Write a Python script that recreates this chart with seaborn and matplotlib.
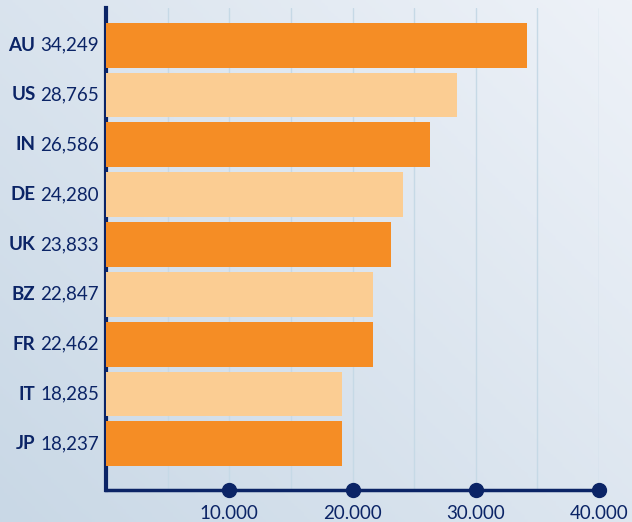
import matplotlib.pyplot as plt
import numpy as np
import pandas as pd
import seaborn as sns
from matplotlib.colors import LinearSegmentedColormap

# Chart data
codes = ["AU", "US", "IN", "DE", "UK", "BZ", "FR", "IT", "JP"]
# Numbers printed next to each code.
label_values = [34249, 28765, 26586, 24280, 23833, 22847, 22462, 18285, 18237]
bar_lengths = [34180, 28510, 26320, 24130, 23160, 21700, 21700, 19110, 19110]
shade = ["dark", "light", "dark", "light", "dark", "light", "dark", "light", "dark"]
x_ticks = [10000, 20000, 30000, 40000]
x_tick_labels = ["10.000", "20.000", "30.000", "40.000"]

NAVY = "#0b2466"
GRID = "#c6d9e6"
palette = {"dark": "#f58d25", "light": "#fbcd93"}


def main() -> None:
    sns.set_theme(style="white")
    plt.rcParams["font.family"] = ["Lato", "DejaVu Sans"]

    df = pd.DataFrame({"code": codes, "value": bar_lengths, "shade": shade})

    fig = plt.figure(figsize=(6.32, 5.22), dpi=100)

    # Diagonal gradient background.
    bg = fig.add_axes([0, 0, 1, 1], zorder=-10)
    yy, xx = np.mgrid[0:1:200j, 0:1:200j]
    grad = 0.55 * xx + 0.45 * yy
    cmap = LinearSegmentedColormap.from_list("bg", ["#c9d8e6", "#eef2f8"])
    bg.imshow(grad, cmap=cmap, origin="lower", aspect="auto", extent=[0, 1, 0, 1])
    bg.axis("off")

    W, H = 632, 522
    left, right, top, bottom = 106, 599, 8, 490
    ax = fig.add_axes([left / W, 1 - bottom / H, (right - left) / W, (bottom - top) / H])
    ax.patch.set_alpha(0)

    sns.barplot(
        data=df, x="value", y="code", hue="shade", palette=palette,
        orient="h", width=0.9, dodge=False, legend=False, ax=ax,
        saturation=1, linewidth=0, zorder=3,
    )

    ax.set_xlim(0, 40000)
    ax.set_ylim(len(codes) - 1 + 0.925, -0.744)
    ax.set_xlabel("")
    ax.set_ylabel("")

    # Vertical gridlines every 5,000.
    for gx in range(5000, 40001, 5000):
        ax.axvline(gx, color=GRID, lw=1, zorder=1)

    for side in ["top", "right"]:
        ax.spines[side].set_visible(False)
    ax.spines["left"].set_color(NAVY)
    ax.spines["left"].set_linewidth(3)
    ax.spines["bottom"].set_color(NAVY)
    ax.spines["bottom"].set_linewidth(2.5)
    ax.spines["bottom"].set_zorder(5)

    # Round markers on the x-axis at each labelled tick.
    ax.plot(x_ticks, [0] * len(x_ticks), "o", color=NAVY, ms=10,
            transform=ax.get_xaxis_transform(), clip_on=False, zorder=6)

    ax.set_xticks(x_ticks)
    ax.set_xticklabels(x_tick_labels, fontsize=13.5, color=NAVY)
    ax.tick_params(axis="x", length=0, pad=10.5)
    ax.set_yticks(range(len(codes)))
    ax.set_yticklabels([])
    ax.tick_params(axis="y", length=0)

    # Category labels: bold code followed by the value.
    for i, (c, v) in enumerate(zip(codes, label_values)):
        vt = ax.annotate(f"{v:,}", xy=(0, i), xycoords=("axes fraction", "data"),
                         xytext=(-5, 0), textcoords="offset points",
                         ha="right", va="center", fontsize=13.5, color=NAVY)
        ax.annotate(c, xy=(0, 0.5), xycoords=vt, xytext=(-3.5, 0),
                    textcoords="offset points", ha="right", va="center",
                    fontsize=13.5, fontweight="bold", color=NAVY)

    fig.savefig("out.png", dpi=100)
    plt.close(fig)


if __name__ == "__main__":
    main()
